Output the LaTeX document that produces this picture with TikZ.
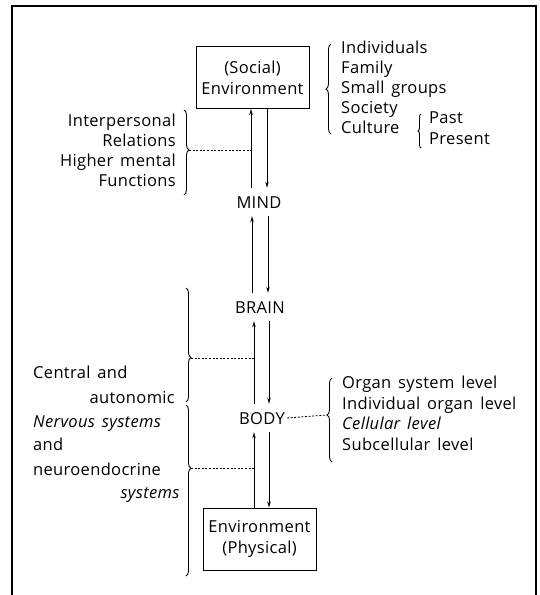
\documentclass[tikz,border=0pt]{standalone}
\usepackage{fontspec}
\setmainfont{Open Sans}[LetterSpace=2]
\usetikzlibrary{arrows.meta,decorations.pathreplacing}
\newcommand{\labelfont}{\fontsize{16.5}{21}\selectfont\spaceskip=0.42em plus 0.1em\relax}
\begin{document}
\begin{tikzpicture}[x=1pt,y=-1pt,
  every node/.style={font=\labelfont, inner sep=0pt},
  envbox/.style={draw, line width=1pt, align=center, minimum width=113pt, minimum height=62pt},
  level/.style={text height=12pt, text depth=0pt, inner ysep=8pt, inner xsep=2pt},
  flow/.style={line width=0.9pt, -{Stealth[length=6pt,width=3.5pt]}},
  link/.style={line width=0.8pt, dash pattern=on 2pt off 1.6pt},
  brc/.style={line width=0.9pt, decorate, decoration={brace, amplitude=5pt, aspect=#1}},
  brc/.default=0.5,
  smallbrc/.style={line width=0.9pt, decorate, decoration={brace, amplitude=3pt}},
  txt/.style={anchor=base west},
  rtxt/.style={anchor=base east},
]
\useasboundingbox (0,0) rectangle (540,595);

% open frame round the figure
\draw[line width=1.1pt] (12,595) -- (12,6) -- (536,6) -- (536,595);

% main column
\node[envbox] (social) at (252.5,77.5) {(Social)\\Environment};
\node[level] (mind) at (259,202) {MIND};
\node[level] (brain) at (260,307) {BRAIN};
\node[level] (body) at (262,418) {BODY};
\node[envbox] (physical) at (259.5,539) {Environment\\(Physical)};

% x positions of the upward and downward arrows
\coordinate (u1) at (251,0);  \coordinate (d1) at (267,0);
\coordinate (u2) at (252,0);  \coordinate (d2) at (268,0);
\coordinate (u3) at (254,0);  \coordinate (d3) at (269,0);
\coordinate (u4) at (254,0);  \coordinate (d4) at (269,0);

\draw[flow] (mind.north -| u1) -- (social.south -| u1);
\draw[flow] (social.south -| d1) -- (mind.north -| d1);
\draw[flow] (brain.north -| u2) -- (mind.south -| u2);
\draw[flow] (mind.south -| d2) -- (brain.north -| d2);
\draw[flow] (body.north -| u3) -- (brain.south -| u3);
\draw[flow] (brain.south -| d3) -- (body.north -| d3);
\draw[flow] (physical.north -| u4) -- (body.south -| u4);
\draw[flow] (body.south -| d4) -- (physical.north -| d4);

% social levels
\foreach \t [count=\i] in {Individuals,Family,Small groups,Society,Culture}
  \node[txt] (soc\i) at (341,33+20*\i) {\t};
\node[txt] (past) at (429,123) {Past};
\node[txt] (present) at (429,144) {Present};
\draw[brc] (331,134) -- (331,44);
\draw[smallbrc] (421,148) -- (421,114);

% interpersonal relations / higher mental functions
\node[rtxt] (ip1) at (176,126) {Interpersonal};
\node[rtxt] (ip2) at (176,146) {Relations};
\node[rtxt] (ip3) at (176,166) {Higher mental};
\node[rtxt] (ip4) at (176,186) {Functions};
\draw[brc=0.47] (184,110) -- (184,195);
\coordinate (tipA) at (189,150);
\draw[link] (tipA) -- (tipA -| u1);

% nervous and neuroendocrine systems
\node[txt]  (ns1) at (33,378) {Central and};
\node[rtxt] (ns2) at (175,403) {autonomic};
\node[txt]  (ns3) at (33,427) {\textit{Nervous systems}};
\node[txt]  (ns4) at (33,450) {and};
\node[txt]  (ns5) at (33,475) {neuroendocrine};
\node[rtxt] (ns6) at (180,498) {\textit{systems}};
\draw[brc=0.61] (186,288) -- (186,402);
\draw[brc=0.37] (186,405) -- (186,576);
\coordinate (tipB) at (191,358);
\coordinate (tipC) at (191,468);
\draw[link] (tipB) -- (tipB -| u3);
\draw[link] (tipC) -- (tipC -| u4);

% body levels
\node[txt] (bl1) at (342,388) {Organ system level};
\node[txt] (bl2) at (342,409) {Individual organ level};
\node[txt] (bl3) at (342,429) {\textit{Cellular level}};
\node[txt] (bl4) at (342,450) {Subcellular level};
\draw[brc=0.56] (332,462) -- (332,378);
\coordinate (tipD) at (327,415);
\draw[link] (body.east) -- (tipD);
\end{tikzpicture}
\end{document}
